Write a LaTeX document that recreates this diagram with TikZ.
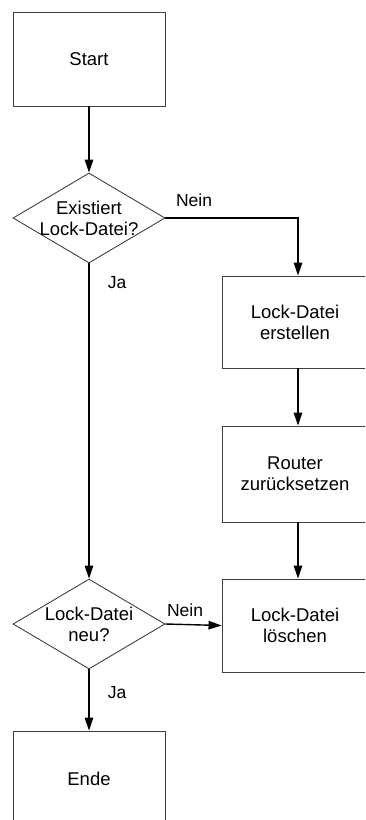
\documentclass[tikz,border=0pt]{standalone}
\usepackage{fontspec}
\setmainfont{Liberation Sans}
\usetikzlibrary{shapes.geometric,arrows.meta}
\begin{document}
\begin{tikzpicture}[x=1pt,y=-1pt,
  stepbox/.style={draw=black!75,line width=0.9pt,rectangle,inner sep=0pt},
  decision/.style={draw=black!75,line width=0.9pt,diamond,inner sep=0pt,
    minimum width=152pt,minimum height=90pt,aspect=1.69},
  txt/.style={align=center,font=\fontsize{18.5}{21}\selectfont,inner sep=0pt},
  flow/.style={draw=black,line width=1.4pt,-{Triangle[length=13pt,width=8.5pt]}},
  lbl/.style={font=\fontsize{17.5}{20}\selectfont,inner sep=0pt}]
  \useasboundingbox (0,0) rectangle (365,820);
  \clip (0,0) rectangle (365,820);

  % left column
  \node[stepbox,minimum width=152pt,minimum height=94pt] (start) at (89,59) {};
  \node[txt] at (start) {Start};
  \node[decision] (d1) at (89,218) {};
  \node[txt] at (d1) {Existiert\\Lock-Datei?};
  \node[decision] (d2) at (89,624) {};
  \node[txt] at (d2) {Lock-Datei\\neu?};
  \node[stepbox,minimum width=152pt,minimum height=140pt] (ende) at (89,801) {};
  \node[txt] at (89,779) {Ende};

  % right column (boxes run past the right edge of the sheet)
  \node[stepbox,minimum width=164pt,minimum height=92pt] (mk) at (304,322) {};
  \node[txt] at (295,322) {Lock-Datei\\erstellen};
  \node[stepbox,minimum width=164pt,minimum height=96pt] (rst) at (304,474) {};
  \node[txt] at (295,474) {Router\\zurücksetzen};
  \node[stepbox,minimum width=164pt,minimum height=93pt] (del) at (304,625.5) {};
  \node[txt] at (295,625.5) {Lock-Datei\\löschen};

  % connectors
  \draw[flow] (d1.east) -| (mk.north -| 298,0);
  \draw[flow] (start.south) -- (d1.north);
  \draw[flow] (d1.south) -- (d2.north);
  \draw[flow] (mk.south -| 298,0) -- (rst.north -| 298,0);
  \draw[flow] (rst.south -| 298,0) -- (del.north -| 298,0);
  \draw[flow] (d2.east) -- (del.west);
  \draw[flow] (d2.south) -- (ende.north);

  % branch labels
  \node[lbl] (n1) at (194,200) {Nein};
  \node[lbl] (j1) at (117,283) {Ja};
  \node[lbl] (n2) at (185,610) {Nein};
  \node[lbl] (j2) at (117,693) {Ja};
\end{tikzpicture}
\end{document}
